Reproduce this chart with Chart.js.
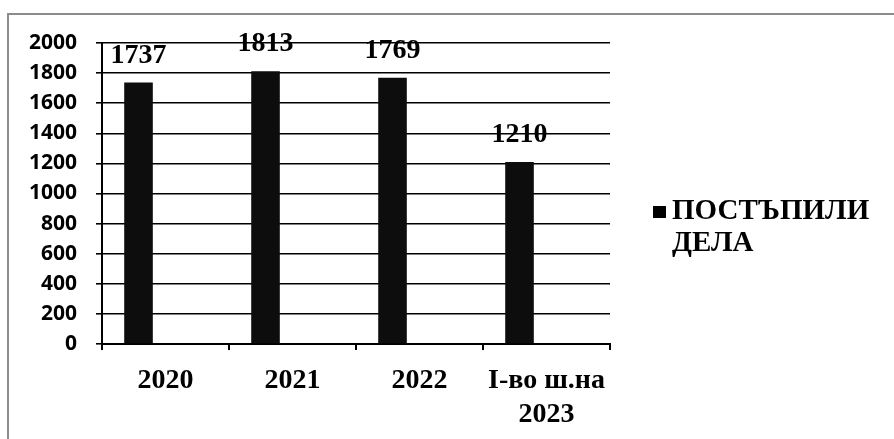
<!DOCTYPE html>
<html>
<head>
<meta charset="utf-8">
<script src="https://cdn.jsdelivr.net/npm/chart.js@4.4.1/dist/chart.umd.min.js"></script>
<style>
    html, body { margin: 0; padding: 0; background: #fff; }
    #wrap { position: relative; width: 894px; height: 439px; overflow: hidden; }
    #frame {
        position: absolute; left: 7px; top: 13px; width: 900px; height: 440px;
        border-top: 2px solid #8c8c8c; border-left: 2px solid #8c8c8c;
        pointer-events: none;
    }
    canvas { position: absolute; left: 0; top: 0; }
</style>
</head>
<body>
<div id="wrap">
    <canvas id="cases-chart" width="894" height="439"></canvas>
    <div id="frame"></div>
</div>
<script>
// ===== DATA =====
const categories = ['2020', '2021', '2022', ['I-во ш.на', '2023']];
const receivedCases = [1737, 1813, 1769, 1210];
const seriesLabel = ['ПОСТЪПИЛИ', 'ДЕЛА'];
const yTicks = [0, 200, 400, 600, 800, 1000, 1200, 1400, 1600, 1800, 2000];

const SERIF = '"Liberation Serif", "Times New Roman", serif';
const SANS = '"Open Sans", "DejaVu Sans", sans-serif';

/**
 * Value labels drawn above each bar
 */
const valueLabels = {
    id: 'valueLabels',
    afterDatasetsDraw(chart) {
        const ctx = chart.ctx;
        const meta = chart.getDatasetMeta(0);
        ctx.save();
        ctx.font = 'bold 28px ' + SERIF;
        ctx.fillStyle = '#000';
        ctx.textAlign = 'center';
        ctx.textBaseline = 'middle';
        meta.data.forEach((bar, i) => {
            ctx.fillText(String(receivedCases[i]), bar.x, bar.y - 27);
        });
        ctx.restore();
    }
};

/**
 * Legend on the right, wrapped on two lines like the original
 */
const sideLegend = {
    id: 'sideLegend',
    afterDraw(chart) {
        const ctx = chart.ctx;
        const x = chart.chartArea.right + 43;
        const y = 212;
        ctx.save();
        ctx.fillStyle = '#000';
        ctx.fillRect(x, y - 6, 13, 12);
        ctx.font = 'bold 29px ' + SERIF;
        ctx.textAlign = 'left';
        ctx.textBaseline = 'middle';
        seriesLabel.forEach((line, i) => {
            ctx.fillText(line, x + 19, y + i * 32);
        });
        ctx.restore();
    }
};

function initCasesChart() {
    const ctx = document.getElementById('cases-chart');
    if (!ctx) return;

    new Chart(ctx, {
        type: 'bar',
        data: {
            labels: categories,
            datasets: [
                {
                    label: seriesLabel.join(' '),
                    data: receivedCases,
                    backgroundColor: '#0d0d0d',
                    borderWidth: 0,
                    categoryPercentage: 0.85,
                    barPercentage: 0.53
                },
                {
                    // empty second slot keeps the bars shifted left, as in the source
                    label: '',
                    data: receivedCases.map(() => null),
                    backgroundColor: 'transparent',
                    categoryPercentage: 0.85,
                    barPercentage: 0.53
                }
            ]
        },
        options: {
            responsive: false,
            animation: false,
            devicePixelRatio: 1,
            layout: { padding: { left: 20, right: 284, top: 43, bottom: 0 } },
            plugins: {
                legend: { display: false },
                tooltip: { enabled: false }
            },
            scales: {
                y: {
                    min: 0,
                    max: 2000,
                    afterBuildTicks: (scale) => {
                        scale.ticks = yTicks.map(v => ({ value: v }));
                    },
                    afterFit: (scale) => { scale.width = 82; },
                    ticks: {
                        color: '#000',
                        padding: 19,
                        callback: (value) => String(value),
                        font: { family: SANS, size: 21, weight: 'bold' }
                    },
                    grid: { color: '#000', lineWidth: 1.6, tickLength: 6 },
                    border: { display: true, color: '#000', width: 2 }
                },
                x: {
                    afterFit: (scale) => { scale.height = 95; },
                    ticks: {
                        color: '#000',
                        padding: 14,
                        maxRotation: 0,
                        font: { family: SERIF, size: 28, weight: 'bold', lineHeight: 1.2 }
                    },
                    grid: { display: true, drawOnChartArea: false, color: '#000', lineWidth: 2, tickLength: 6 },
                    border: { display: true, color: '#000', width: 2 }
                }
            }
        },
        plugins: [valueLabels, sideLegend]
    });
}

initCasesChart();
</script>
</body>
</html>
